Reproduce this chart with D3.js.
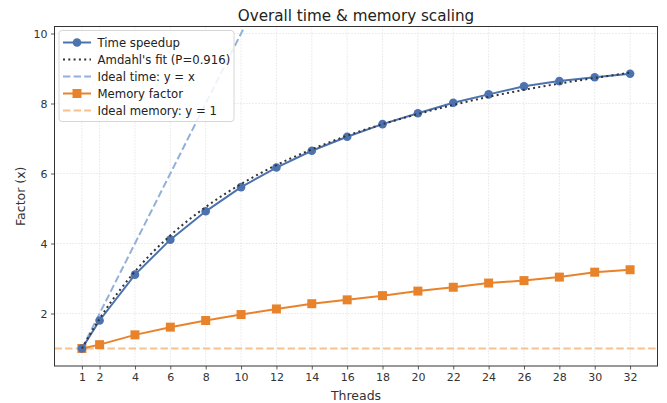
<!DOCTYPE html>
<html>
<head>
<meta charset="utf-8">
<script src="https://cdn.jsdelivr.net/npm/d3@7"></script>
<style>
  body { margin: 0; background: #fff; }
  svg { font-family: "DejaVu Sans", sans-serif; }
</style>
</head>
<body>
<div id="chart"></div>
<script>
var W = 667, H = 403;

// data
var threads = [1, 2, 4, 6, 8, 10, 12, 14, 16, 18, 20, 22, 24, 26, 28, 30, 32];
var speedup = [1.0, 1.8, 3.11, 4.11, 4.92, 5.61, 6.17, 6.65, 7.05, 7.41, 7.72, 8.02, 8.26, 8.49, 8.64, 8.75, 8.85];
var amdahlFit = [1.0, 1.85, 3.2, 4.23, 5.04, 5.7, 6.24, 6.69, 7.08, 7.41, 7.7, 7.96, 8.19, 8.39, 8.57, 8.73, 8.88];
var memFactor = [1.0, 1.11, 1.39, 1.61, 1.8, 1.97, 2.13, 2.28, 2.39, 2.51, 2.64, 2.75, 2.87, 2.94, 3.04, 3.18, 3.25];
var yTicks = [2, 4, 6, 8, 10];
var legendLabels = ['Time speedup', "Amdahl's fit (P=0.916)", 'Ideal time: y = x', 'Memory factor', 'Ideal memory: y = 1'];

var blue = '#4c72b0', orange = '#e8832c';
var idealBlue = '#93b0d8', idealOrange = '#f5c18e';

var m = {left: 54.5, right: 9.5, top: 26.5, bottom: 37};

var svg = d3.select('#chart').append('svg')
  .attr('width', W)
  .attr('height', H);

var x = d3.scaleLinear().domain([-0.55, 33.55]).range([m.left, W - m.right]);
var y = d3.scaleLinear().domain([0.5, 10.2]).range([H - m.bottom, m.top]);

svg.append('defs').append('clipPath').attr('id', 'clip')
  .append('rect')
  .attr('x', m.left).attr('y', m.top)
  .attr('width', W - m.left - m.right)
  .attr('height', H - m.top - m.bottom);

// grid
var grid = svg.append('g').attr('stroke', '#d0d0d0').attr('stroke-width', 0.8).attr('stroke-dasharray', '1,2');
grid.selectAll('.gx').data(threads).enter().append('line')
  .attr('x1', d => x(d)).attr('x2', d => x(d))
  .attr('y1', m.top).attr('y2', H - m.bottom);
grid.selectAll('.gy').data(yTicks).enter().append('line')
  .attr('x1', m.left).attr('x2', W - m.right)
  .attr('y1', d => y(d)).attr('y2', d => y(d));

var plot = svg.append('g').attr('clip-path', 'url(#clip)');
var line = d3.line().x(d => x(d[0])).y(d => y(d[1]));

// ideal lines
plot.append('path')
  .datum([[1, 1], [32, 32]])
  .attr('d', line)
  .attr('fill', 'none').attr('stroke', idealBlue).attr('stroke-width', 2)
  .attr('stroke-dasharray', '7.4,3.2');
plot.append('path')
  .datum([[-0.55, 1], [33.55, 1]])
  .attr('d', line)
  .attr('fill', 'none').attr('stroke', idealOrange).attr('stroke-width', 2)
  .attr('stroke-dasharray', '7.4,3.2');

// memory
var memPts = threads.map((t, i) => [t, memFactor[i]]);
plot.append('path').datum(memPts).attr('d', line)
  .attr('fill', 'none').attr('stroke', orange).attr('stroke-width', 2);
plot.selectAll('.sq').data(memPts).enter().append('rect')
  .attr('x', d => x(d[0]) - 4.5).attr('y', d => y(d[1]) - 4.5)
  .attr('width', 9).attr('height', 9)
  .attr('fill', orange);

// speedup
var spPts = threads.map((t, i) => [t, speedup[i]]);
plot.append('path').datum(spPts).attr('d', line)
  .attr('fill', 'none').attr('stroke', blue).attr('stroke-width', 2);
plot.selectAll('.dot').data(spPts).enter().append('circle')
  .attr('cx', d => x(d[0])).attr('cy', d => y(d[1]))
  .attr('r', 4.3).attr('fill', blue);

// amdahl fit
var fitPts = threads.map((t, i) => [t, amdahlFit[i]]);
plot.append('path').datum(fitPts)
  .attr('d', d3.line().x(d => x(d[0])).y(d => y(d[1])).curve(d3.curveMonotoneX))
  .attr('fill', 'none').attr('stroke', '#333').attr('stroke-width', 2)
  .attr('stroke-dasharray', '2,3.3');

// axes
var xAxis = svg.append('g')
  .attr('transform', 'translate(0,' + (H - m.bottom) + ')')
  .call(d3.axisBottom(x).tickValues(threads).tickSize(3.5).tickPadding(3.5));
var yAxis = svg.append('g')
  .attr('transform', 'translate(' + m.left + ',0)')
  .call(d3.axisLeft(y).tickValues(yTicks).tickSize(3.5).tickPadding(3.5));
[xAxis, yAxis].forEach(function(a) {
  a.select('.domain').remove();
  a.selectAll('line').attr('stroke', '#333').attr('stroke-width', 0.8);
  a.selectAll('text').attr('fill', '#333').style('font-size', '11px').style('font-family', '"DejaVu Sans", sans-serif');
});

// frame
svg.append('rect')
  .attr('x', m.left).attr('y', m.top)
  .attr('width', W - m.left - m.right).attr('height', H - m.top - m.bottom)
  .attr('fill', 'none').attr('stroke', '#333').attr('stroke-width', 1);

// labels
svg.append('text').attr('x', (m.left + W - m.right) / 2).attr('y', 20.5)
  .attr('text-anchor', 'middle').attr('fill', '#222').style('font-size', '15.2px')
  .text('Overall time & memory scaling');
svg.append('text').attr('x', (m.left + W - m.right) / 2).attr('y', 399.5)
  .attr('text-anchor', 'middle').attr('fill', '#333').style('font-size', '12.5px')
  .text('Threads');
svg.append('text')
  .attr('transform', 'translate(25,' + ((m.top + H - m.bottom) / 2) + ') rotate(-90)')
  .attr('text-anchor', 'middle').attr('fill', '#333').style('font-size', '12.5px')
  .text('Factor (x)');

// legend
var lg = svg.append('g');
lg.append('rect')
  .attr('x', 59).attr('y', 30.5).attr('width', 175).attr('height', 91)
  .attr('rx', 3)
  .attr('fill', 'rgba(255,255,255,0.85)').attr('stroke', '#d6d6d6').attr('stroke-width', 1);
var styles = [
  {c: blue, dash: null, mk: 'circle'},
  {c: '#333', dash: '2,3.3', mk: null},
  {c: idealBlue, dash: '7.4,3.2', mk: null},
  {c: orange, dash: null, mk: 'square'},
  {c: idealOrange, dash: '7.4,3.2', mk: null}
];
legendLabels.forEach(function(lab, i) {
  var ly = 42.5 + i * 17;
  var s = styles[i];
  lg.append('line')
    .attr('x1', 63).attr('x2', 91).attr('y1', ly).attr('y2', ly)
    .attr('stroke', s.c).attr('stroke-width', 2)
    .attr('stroke-dasharray', s.dash);
  if (s.mk == 'circle') {
    lg.append('circle').attr('cx', 77).attr('cy', ly).attr('r', 4.3).attr('fill', s.c);
  } else if (s.mk == 'square') {
    lg.append('rect').attr('x', 72.5).attr('y', ly - 4.5).attr('width', 9).attr('height', 9).attr('fill', s.c);
  }
  lg.append('text').attr('x', 97.5).attr('y', ly + 4.2)
    .attr('fill', '#222').style('font-size', '11.7px')
    .text(lab);
});
</script>
</body>
</html>
